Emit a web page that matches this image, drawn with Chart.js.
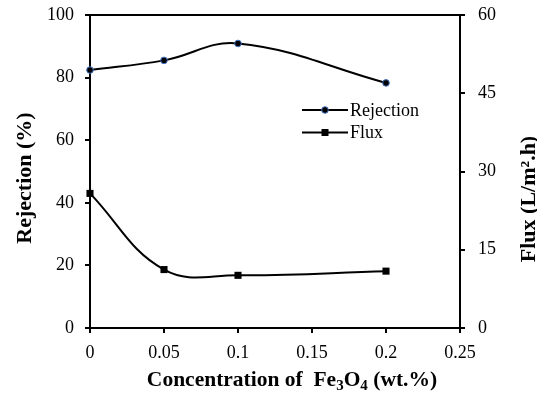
<!DOCTYPE html>
<html><head><meta charset="utf-8">
<script src="https://cdn.jsdelivr.net/npm/chart.js@4"></script>
<style>html,body{margin:0;padding:0;background:#fff}#wrap{width:537px;height:400px}</style>
</head><body><div id="wrap"><canvas id="c" width="537" height="400"></canvas></div>
<script>
const concentration = [0, 0.05, 0.1, 0.2];
const rejection = [82.4, 85.5, 90.9, 78.3];
const flux = [25.8, 11.2, 10.1, 10.9];
const xTicks = [0, 0.05, 0.1, 0.15, 0.2, 0.25];
const leftTicks = [0, 20, 40, 60, 80, 100];
const rightTicks = [0, 15, 30, 45, 60];
const seriesNames = ['Rejection', 'Flux'];
const leftTitle = 'Rejection (%)';
const rightTitle = 'Flux (L/m\u00B2.h)';
const xTitleParts = [['Concentration of  Fe', 0], ['3', 1], ['O', 0], ['4', 1], [' (wt.%)', 0]];

const FONT = "'Liberation Serif','Times New Roman',serif";

const toPts = ys => concentration.map((x, i) => ({x: x, y: ys[i]}));

const decor = {
  id: 'decor',
  afterDraw(chart) {
    const ctx = chart.ctx, a = chart.chartArea;
    ctx.save();
    // top border
    ctx.strokeStyle = '#000'; ctx.lineWidth = 2;
    ctx.beginPath(); ctx.moveTo(a.left - 1, a.top); ctx.lineTo(a.right + 1, a.top); ctx.stroke();
    ctx.fillStyle = '#000';
    // y titles
    ctx.font = 'bold 22px ' + FONT;
    ctx.textAlign = 'center'; ctx.textBaseline = 'middle';
    ctx.save(); ctx.translate(25, 178); ctx.rotate(-Math.PI / 2); ctx.fillText(leftTitle, 0, 0); ctx.restore();
    ctx.save(); ctx.translate(529, 199); ctx.rotate(-Math.PI / 2); ctx.fillText(rightTitle, 0, 0); ctx.restore();
    // x title with subscripts
    ctx.textAlign = 'left'; ctx.textBaseline = 'alphabetic';
    let total = 0;
    xTitleParts.forEach(([t, sub]) => {
      ctx.font = 'bold ' + (sub ? 15 : 21.5) + 'px ' + FONT;
      total += ctx.measureText(t).width;
    });
    let x = 292 - total / 2;
    xTitleParts.forEach(([t, sub]) => {
      ctx.font = 'bold ' + (sub ? 15 : 21.5) + 'px ' + FONT;
      ctx.fillText(t, x, sub ? 390 : 386);
      x += ctx.measureText(t).width;
    });
    // legend
    const ly = [110, 132.5];
    ctx.lineWidth = 2;
    ly.forEach((y, i) => {
      ctx.strokeStyle = '#000';
      ctx.beginPath(); ctx.moveTo(302, y); ctx.lineTo(348, y); ctx.stroke();
      if (i === 0) {
        ctx.beginPath(); ctx.arc(325, y, 3.3, 0, Math.PI * 2);
        ctx.fillStyle = '#000'; ctx.fill();
        ctx.lineWidth = 1; ctx.strokeStyle = '#4472C4'; ctx.stroke(); ctx.lineWidth = 2;
      } else {
        ctx.fillStyle = '#000'; ctx.fillRect(321.5, y - 3.5, 7, 7);
      }
      ctx.fillStyle = '#000';
      ctx.font = '18px ' + FONT; ctx.textAlign = 'left'; ctx.textBaseline = 'middle';
      ctx.fillText(seriesNames[i], 350, y + 1);
    });
    ctx.restore();
  }
};

const tickFont = {family: FONT, size: 18};
const gridOpts = {drawOnChartArea: false, color: '#000', lineWidth: 2, tickLength: 5};
const borderOpts = {color: '#000', width: 2};
const fitY = w => s => { s.width = w; s.paddingTop = 0; s.paddingBottom = 0; };

new Chart(document.getElementById('c'), {
  type: 'line',
  data: {
    datasets: [
      {label: seriesNames[0], data: toPts(rejection), yAxisID: 'y', borderColor: '#000', borderWidth: 2,
       tension: 0.4, pointRadius: 3.3, pointBackgroundColor: '#000', pointBorderColor: '#4472C4', pointBorderWidth: 1, clip: false},
      {label: seriesNames[1], data: toPts(flux), yAxisID: 'y1', borderColor: '#000', borderWidth: 2,
       tension: 0.4, pointStyle: 'rect', pointRadius: 5, pointBackgroundColor: '#000', pointBorderColor: '#000', pointBorderWidth: 0, clip: false}
    ]
  },
  options: {
    responsive: false, animation: false, devicePixelRatio: 1,
    layout: {padding: {top: 15, left: 0, right: 0, bottom: 0}},
    plugins: {legend: {display: false}, tooltip: {enabled: false}},
    scales: {
      x: {type: 'linear', min: 0, max: 0.25,
          afterBuildTicks: s => { s.ticks = xTicks.map(v => ({value: v})); },
          afterFit: s => { s.height = 72; s.paddingLeft = 0; s.paddingRight = 0; },
          grid: gridOpts, border: borderOpts,
          ticks: {color: '#000', font: tickFont, padding: 9, maxRotation: 0, autoSkip: false, callback: v => String(v)}},
      y: {position: 'left', min: 0, max: 100,
          afterBuildTicks: s => { s.ticks = leftTicks.map(v => ({value: v})); },
          afterFit: fitY(90),
          grid: gridOpts, border: borderOpts,
          ticks: {color: '#000', font: tickFont, padding: 11, callback: v => String(v)}},
      y1: {position: 'right', min: 0, max: 60,
          afterBuildTicks: s => { s.ticks = rightTicks.map(v => ({value: v})); },
          afterFit: fitY(77),
          grid: gridOpts, border: borderOpts,
          ticks: {color: '#000', font: tickFont, padding: 13, callback: v => String(v)}}
    }
  },
  plugins: [decor]
});
</script></body></html>
